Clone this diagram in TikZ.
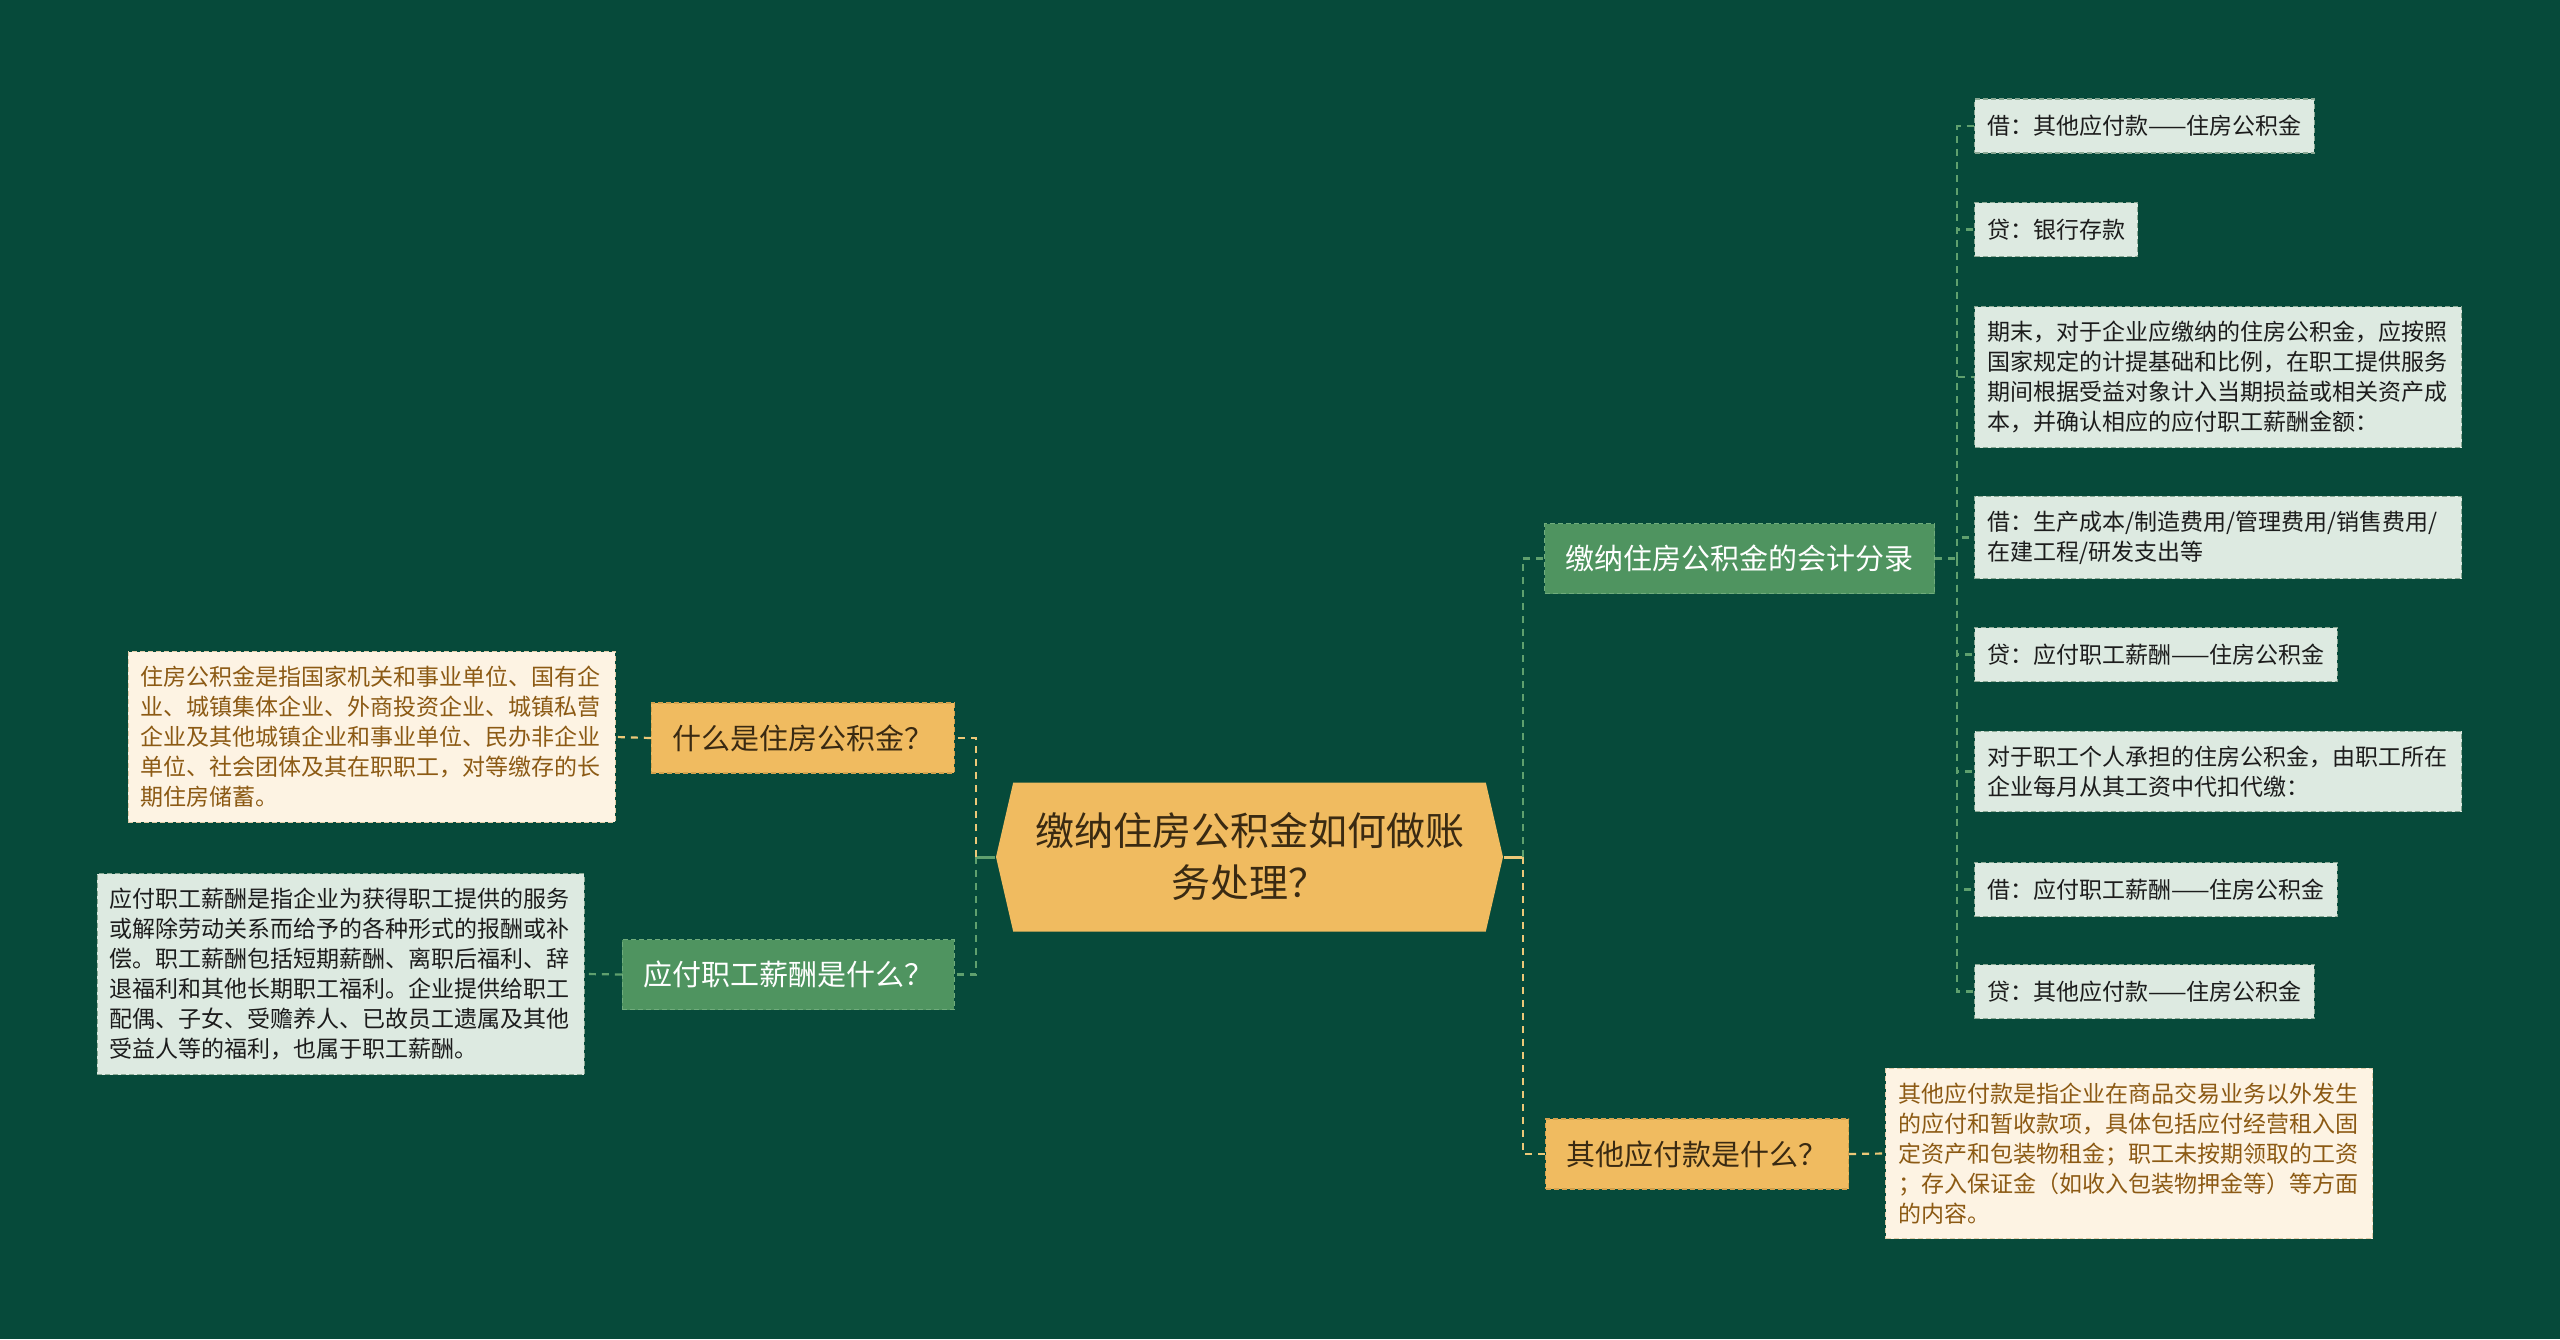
\documentclass[tikz,border=0pt]{standalone}
\usepackage{fontspec}
\setmainfont{Noto Sans CJK SC}
\usetikzlibrary{shapes.symbols}

\definecolor{bgdark}{RGB}{6,74,58}
\definecolor{orangefill}{RGB}{240,187,96}
\definecolor{orangeline}{RGB}{212,162,78}
\definecolor{orangetext}{RGB}{58,42,18}
\definecolor{greenfill}{RGB}{79,148,96}
\definecolor{greenline}{RGB}{112,172,124}
\definecolor{leaffill}{RGB}{221,234,225}
\definecolor{leafline}{RGB}{138,168,148}
\definecolor{leaftext}{RGB}{28,28,28}
\definecolor{creamfill}{RGB}{253,243,227}
\definecolor{creamline}{RGB}{224,204,168}
\definecolor{creamtext}{RGB}{140,90,20}
\definecolor{linkgreen}{RGB}{95,160,110}
\definecolor{linktan}{RGB}{236,200,120}

\tikzset{every picture/.style={line width=0.75pt},
  box/.style={inner xsep=6.25pt, inner ysep=7.25pt, align=left, minimum height=27pt,
    font=\fontsize{11.5}{15}\selectfont, dash pattern=on 2.5pt off 1.5pt, line width=0.6pt},
  leafbox/.style={box, fill=leaffill, draw=leafline, text=leaftext},
  descbox/.style={box, fill=creamfill, draw=creamline, text=creamtext},
  widebox/.style={text width=231pt},
  qbox/.style={inner xsep=10.5pt, inner ysep=0pt, minimum height=35pt,
    font=\fontsize{14.5}{17}\selectfont, dash pattern=on 2.5pt off 1.5pt, line width=0.6pt},
  orangebox/.style={qbox, fill=orangefill, draw=orangeline, text=orangetext},
  greenbox/.style={qbox, fill=greenfill, draw=greenline, text=white},
  rootnode/.style={signal, signal to=west and east, signal pointer angle=154,
    fill=orangefill, text=orangetext, align=center, inner sep=0pt,
    minimum width=253.5pt, minimum height=74.5pt, font=\fontsize{19.5}{26}\selectfont},
  link/.style={dash pattern=on 3.5pt off 3pt, line width=1.1pt},
  greenlink/.style={link, draw=linkgreen},
  tanlink/.style={link, draw=linktan},
  stub/.style={line width=1.5pt}}

\begin{document}
\begin{tikzpicture}[x=0.5pt,y=0.5pt,yscale=-1,xscale=1]
        %Background
        \useasboundingbox (0,0) rectangle (2560,1339);
        \fill [bgdark] (0,0) rectangle (2560,1339);

        % Root Node
        \node [rootnode] (root) at (1249.5,857) {缴纳住房公积金如何做账\\务处理？};

        % Left Nodes
        \node [orangebox, anchor=east] (q1) at (955,738) {什么是住房公积金？};
        \node [descbox, widebox, anchor=east] (d1) at (616,737) {住房公积金是指国家机关和事业单位、国有企\\业、城镇集体企业、外商投资企业、城镇私营\\企业及其他城镇企业和事业单位、民办非企业\\单位、社会团体及其在职职工，对等缴存的长\\期住房储蓄。};
        \node [greenbox, anchor=east] (q2) at (955,974.5) {应付职工薪酬是什么？};
        \node [leafbox, widebox, anchor=east] (d2) at (585,974) {应付职工薪酬是指企业为获得职工提供的服务\\或解除劳动关系而给予的各种形式的报酬或补\\偿。职工薪酬包括短期薪酬、离职后福利、辞\\退福利和其他长期职工福利。企业提供给职工\\配偶、子女、受赡养人、已故员工遗属及其他\\受益人等的福利，也属于职工薪酬。};

        % Right Nodes
        \node [greenbox, anchor=west] (q3) at (1544,558.5) {缴纳住房公积金的会计分录};
        \node [orangebox, anchor=west] (q4) at (1545,1154) {其他应付款是什么？};
        \node [descbox, widebox, anchor=west] (d4) at (1885,1153.5) {其他应付款是指企业在商品交易业务以外发生\\的应付和暂收款项，具体包括应付经营租入固\\定资产和包装物租金；职工未按期领取的工资\\；存入保证金（如收入包装物押金等）等方面\\的内容。};

        % Leaf Nodes
        \node [leafbox, anchor=west] (l1) at (1974,126) {借：其他应付款——住房公积金};
        \node [leafbox, anchor=west] (l2) at (1974,229.5) {贷：银行存款};
        \node [leafbox, widebox, anchor=west] (l3) at (1974,377) {期末，对于企业应缴纳的住房公积金，应按照\\国家规定的计提基础和比例，在职工提供服务\\期间根据受益对象计入当期损益或相关资产成\\本，并确认相应的应付职工薪酬金额：};
        \node [leafbox, widebox, anchor=west] (l4) at (1974,537.5) {借：生产成本/制造费用/管理费用/销售费用/\\在建工程/研发支出等};
        \node [leafbox, anchor=west] (l5) at (1974,654.5) {贷：应付职工薪酬——住房公积金};
        \node [leafbox, widebox, anchor=west] (l6) at (1974,771.5) {对于职工个人承担的住房公积金，由职工所在\\企业每月从其工资中代扣代缴：};
        \node [leafbox, anchor=west] (l7) at (1974,889.5) {借：应付职工薪酬——住房公积金};
        \node [leafbox, anchor=west] (l8) at (1974,991.5) {贷：其他应付款——住房公积金};

        %Straight Lines: left side
        \path (root.west) ++(-19,0) coordinate (lj);
        \draw [stub, linkgreen] (root.west) -- (lj);
        \draw [tanlink] (lj) |- (q1.east);
        \draw [greenlink] (lj) |- (q2.east);
        \draw [tanlink] (q1.west) -- (d1.east);
        \draw [greenlink] (q2.west) -- (d2.east);

        %Straight Lines: right side
        \path (root.east) ++(19,0) coordinate (rj);
        \draw [stub, linktan] (root.east) -- (rj);
        \draw [greenlink] (rj) |- (q3.west);
        \draw [tanlink] (rj) |- (q4.west);
        \draw [tanlink] (q4.east) -- (d4.west);

        %Straight Lines: leaves
        \path (q3.east) ++(22,0) coordinate (mj);
        \draw [greenlink] (q3.east) -- (mj);
        \foreach \i in {1,...,8}
          \draw [greenlink] (mj) |- (l\i.west);
\end{tikzpicture}
\end{document}
